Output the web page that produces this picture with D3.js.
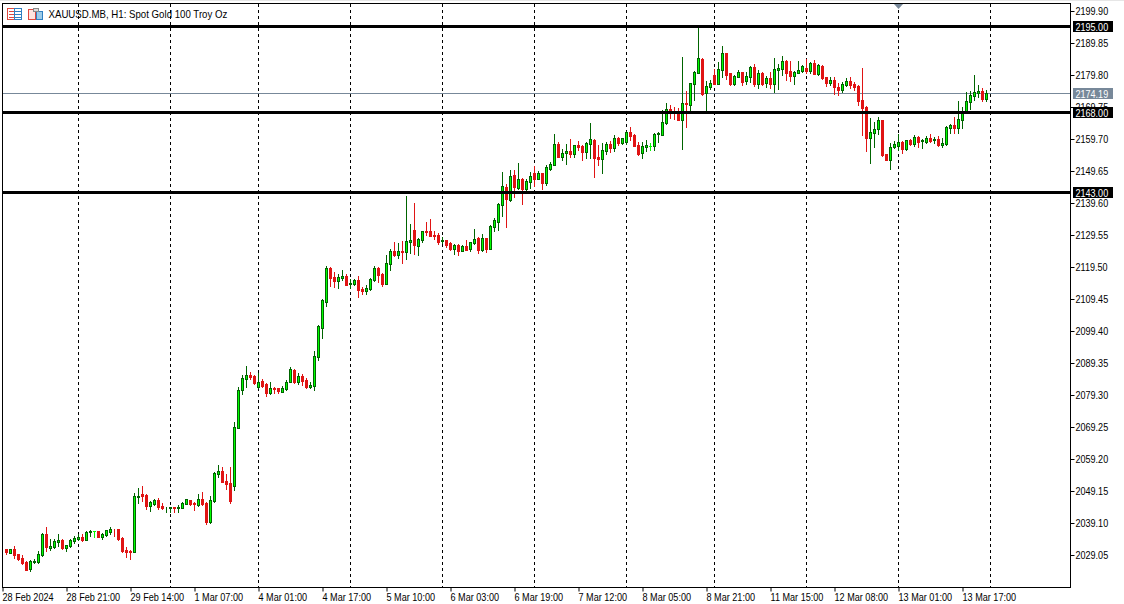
<!DOCTYPE html>
<html><head><meta charset="utf-8">
<style>html,body{margin:0;padding:0;background:#fff}svg{display:block}text{font-family:"Liberation Sans",Arial,sans-serif;fill:#000}</style>
<script src="https://cdn.jsdelivr.net/npm/d3@7/dist/d3.min.js"></script>
</head><body><svg id="c" width="1124" height="604"></svg>
<script>
const opens=[2030.9,2029.7,2030.9,2029.3,2028.0,2026.9,2024.7,2027.0,2026.9,2029.0,
2035.6,2031.2,2031.6,2033.1,2033.8,2031.2,2031.9,2033.4,2034.1,2034.7,
2033.8,2036.3,2036.6,2036.6,2034.7,2035.3,2036.3,2037.2,2037.2,2034.4,
2030.6,2030.3,2030.0,2047.4,2048.2,2047.9,2044.4,2045.1,2046.3,2044.4,
2044.0,2043.8,2044.1,2043.8,2043.8,2045.1,2046.3,2045.4,2044.8,2046.6,
2045.4,2039.4,2046.0,2054.5,2055.4,2052.3,2051.7,2050.7,2068.9,2080.9,
2084.3,2085.6,2085.3,2081.8,2083.7,2082.7,2079.9,2081.5,2081.5,2080.2,
2081.2,2083.4,2087.1,2083.4,2085.3,2084.0,2081.8,2082.2,2091.2,2100.3,
2108.5,2119.2,2116.4,2115.1,2116.0,2116.7,2114.2,2114.2,2115.4,2112.6,
2112.0,2112.6,2115.4,2119.2,2117.3,2114.2,2120.4,2124.5,2123.3,2124.5,
2124.2,2127.4,2131.1,2126.1,2128.0,2130.8,2130.8,2129.5,2129.5,2127.8,
2128.0,2127.0,2125.2,2126.4,2124.5,2126.1,2125.2,2127.0,2128.6,2124.8,
2128.6,2125.2,2132.1,2133.6,2139.0,2144.6,2140.5,2148.4,2144.3,2147.1,
2144.0,2146.2,2149.0,2147.1,2149.0,2145.9,2150.3,2151.5,2158.1,2154.0,
2155.3,2155.9,2155.0,2157.8,2157.5,2155.6,2158.1,2159.4,2154.0,2153.4,
2155.9,2158.1,2156.9,2160.0,2158.4,2158.8,2161.9,2161.0,2157.8,2155.3,
2157.3,2157.5,2157.5,2161.3,2161.0,2164.7,2169.1,2167.9,2167.9,2165.7,
2171.0,2170.4,2177.0,2180.4,2184.8,2174.1,2176.0,2179.8,2177.0,2181.4,
2186.7,2180.4,2177.0,2179.2,2180.7,2177.9,2179.2,2182.3,2177.0,2180.4,
2177.3,2178.9,2177.0,2181.4,2181.7,2184.2,2181.1,2179.5,2180.4,2181.1,
2182.0,2181.1,2183.6,2180.1,2182.6,2179.2,2177.3,2178.2,2176.0,2175.1,
2176.7,2177.9,2177.0,2176.3,2171.9,2169.7,2160.0,2161.6,2162.8,2165.7,
2155.0,2153.1,2157.2,2157.5,2158.8,2156.5,2159.4,2158.1,2160.3,2159.1,
2158.8,2160.0,2159.4,2159.7,2157.8,2158.1,2163.1,2164.1,2163.1,2165.7,
2168.5,2171.3,2173.2,2174.1,2174.8,2172.3];
const highs=[2030.9,2030.9,2031.9,2029.4,2028.9,2027.2,2027.5,2027.8,2030.3,2036.0,
2037.8,2034.1,2034.1,2035.6,2034.1,2032.2,2034.1,2035.0,2035.6,2035.6,
2036.6,2036.9,2036.6,2036.6,2036.0,2036.9,2037.8,2037.2,2037.2,2034.7,
2031.6,2030.6,2048.5,2050.1,2050.7,2048.2,2046.0,2046.6,2047.0,2045.4,
2044.1,2044.1,2044.1,2044.8,2045.7,2046.6,2046.3,2045.7,2048.2,2048.8,
2045.7,2047.6,2055.1,2057.3,2056.7,2054.5,2056.7,2070.8,2081.8,2085.6,
2088.4,2086.5,2085.6,2086.2,2084.3,2083.1,2083.4,2081.8,2081.5,2082.1,
2084.0,2088.1,2087.5,2086.2,2085.9,2084.6,2083.4,2093.1,2101.3,2109.4,
2119.8,2119.5,2117.9,2117.3,2118.6,2117.3,2115.7,2115.7,2116.7,2113.2,
2113.9,2116.0,2119.8,2119.5,2117.6,2123.3,2125.2,2127.4,2127.0,2127.7,
2141.8,2133.0,2139.6,2128.6,2130.8,2133.6,2134.6,2130.8,2130.2,2128.9,
2128.0,2127.4,2126.7,2126.7,2126.4,2128.0,2127.4,2131.4,2128.9,2129.9,
2128.6,2132.7,2134.9,2139.6,2149.3,2145.6,2150.0,2150.0,2152.2,2147.4,
2147.1,2149.3,2151.2,2149.6,2149.0,2151.5,2152.5,2161.3,2158.8,2156.6,
2158.1,2159.7,2157.8,2159.1,2157.8,2158.8,2164.7,2159.7,2157.8,2158.4,
2158.8,2159.1,2161.0,2160.3,2160.0,2162.2,2163.5,2161.3,2158.8,2158.8,
2159.4,2158.4,2161.6,2161.9,2168.8,2171.0,2170.4,2169.8,2169.4,2185.4,
2174.8,2177.3,2181.1,2194.6,2185.1,2177.9,2178.2,2181.7,2183.9,2188.9,
2186.7,2180.4,2179.8,2181.4,2180.7,2180.7,2182.6,2183.2,2181.4,2180.7,
2179.5,2180.7,2185.1,2183.2,2185.8,2184.5,2184.2,2181.1,2184.2,2182.9,
2184.8,2183.9,2184.5,2183.2,2182.9,2179.2,2179.2,2179.2,2177.3,2177.6,
2178.9,2179.2,2177.6,2176.7,2182.0,2170.1,2166.3,2165.0,2166.6,2165.7,
2155.0,2158.4,2159.1,2161.3,2159.1,2159.4,2159.7,2161.0,2160.6,2159.7,
2160.6,2161.3,2160.3,2160.6,2160.0,2163.8,2164.4,2166.6,2171.6,2169.7,
2174.5,2174.8,2179.8,2176.7,2175.7,2175.1];
const lows=[2029.4,2029.7,2028.1,2027.5,2026.2,2024.3,2024.0,2026.5,2026.5,2028.7,
2030.3,2030.6,2031.2,2031.9,2030.9,2030.3,2031.6,2032.8,2033.8,2033.4,
2033.8,2035.0,2034.7,2034.7,2034.1,2035.0,2035.6,2035.0,2033.8,2030.0,
2028.4,2027.8,2030.0,2045.4,2046.0,2043.5,2042.9,2044.8,2043.5,2043.5,
2042.6,2042.6,2042.6,2042.6,2043.8,2045.1,2044.8,2043.2,2044.4,2044.8,
2038.8,2039.1,2045.7,2053.5,2052.0,2049.8,2045.4,2049.5,2068.9,2079.6,
2081.8,2084.3,2082.8,2081.5,2081.8,2079.0,2079.6,2079.9,2079.9,2080.2,
2080.9,2083.4,2083.1,2082.7,2082.4,2081.5,2081.5,2080.9,2090.3,2097.2,
2107.2,2113.5,2113.2,2112.9,2115.4,2113.9,2112.9,2113.9,2110.1,2111.0,
2111.0,2112.3,2115.1,2114.8,2113.5,2114.2,2118.6,2123.0,2122.3,2120.7,
2122.0,2123.9,2123.6,2123.3,2127.4,2129.5,2129.2,2128.3,2126.7,2127.0,
2125.8,2124.8,2123.6,2123.3,2124.5,2124.8,2124.5,2126.7,2123.9,2124.5,
2124.2,2125.2,2130.8,2131.1,2135.5,2132.1,2140.2,2141.5,2144.0,2139.3,
2143.4,2144.3,2144.9,2147.1,2144.0,2145.3,2150.0,2151.5,2154.0,2153.1,
2151.8,2154.0,2154.0,2156.2,2153.1,2153.7,2153.7,2147.8,2151.5,2149.0,
2155.0,2155.6,2155.9,2157.8,2158.1,2158.1,2159.4,2157.5,2154.7,2153.7,
2155.9,2156.2,2156.2,2158.8,2161.0,2164.4,2166.3,2166.0,2165.7,2156.6,
2163.5,2168.5,2171.9,2180.4,2173.5,2168.5,2175.4,2177.0,2177.0,2179.2,
2178.5,2176.7,2176.7,2179.2,2176.7,2177.0,2177.6,2176.3,2175.7,2176.7,
2176.0,2175.7,2174.5,2175.4,2179.8,2178.2,2177.9,2177.0,2180.4,2180.7,
2180.4,2180.4,2180.1,2179.8,2178.5,2176.3,2176.7,2173.8,2173.5,2174.5,
2176.3,2175.7,2175.1,2170.4,2161.0,2155.9,2152.2,2157.2,2161.3,2154.4,
2153.1,2150.3,2156.9,2156.2,2155.3,2156.2,2157.8,2157.5,2157.2,2156.9,
2158.4,2158.8,2158.4,2157.5,2157.2,2157.8,2161.6,2161.6,2161.6,2163.1,
2168.5,2169.1,2171.9,2172.9,2171.6,2171.6];
const closes=[2030.1,2030.9,2029.0,2027.8,2026.5,2024.3,2027.2,2027.2,2029.4,2035.6,
2031.6,2031.9,2033.4,2033.8,2031.2,2032.2,2033.8,2034.4,2034.7,2033.8,
2036.3,2036.6,2036.6,2034.7,2035.6,2036.8,2037.2,2037.1,2034.1,2030.3,
2030.0,2030.0,2047.6,2047.6,2047.6,2044.4,2045.7,2046.3,2044.1,2043.8,
2044.1,2044.1,2043.7,2044.1,2045.4,2046.5,2045.1,2045.0,2046.6,2045.1,
2039.4,2046.3,2054.8,2055.4,2052.0,2051.3,2046.0,2069.3,2080.9,2084.6,
2085.6,2085.0,2083.1,2083.4,2082.1,2079.9,2081.5,2081.3,2080.6,2081.5,
2083.4,2087.5,2083.4,2085.3,2083.7,2081.8,2082.4,2091.5,2101.0,2109.1,
2119.2,2116.0,2115.1,2116.4,2116.7,2113.9,2114.5,2115.4,2112.3,2112.0,
2112.9,2115.7,2119.2,2117.0,2114.2,2120.7,2124.5,2123.3,2124.5,2124.3,
2127.7,2128.0,2126.4,2128.3,2130.8,2130.5,2129.2,2129.2,2127.4,2128.0,
2126.4,2125.2,2126.4,2124.5,2126.1,2124.8,2127.4,2128.3,2124.8,2128.6,
2125.2,2132.4,2134.3,2139.3,2144.9,2140.8,2148.1,2144.6,2147.1,2144.0,
2146.5,2148.1,2147.1,2149.0,2145.9,2150.9,2151.8,2158.1,2154.0,2155.3,
2155.9,2155.0,2157.8,2157.2,2155.6,2158.4,2159.7,2153.7,2153.4,2156.2,
2158.1,2156.9,2160.0,2158.4,2160.0,2161.9,2160.6,2157.5,2155.0,2157.5,
2157.8,2157.5,2161.3,2161.5,2165.0,2169.1,2167.9,2167.8,2165.7,2171.0,
2170.7,2177.3,2180.7,2185.1,2173.8,2176.3,2177.3,2177.0,2181.7,2186.7,
2179.8,2177.0,2179.5,2180.7,2177.6,2179.5,2182.3,2177.0,2180.4,2177.0,
2178.9,2177.0,2181.7,2182.0,2184.2,2180.4,2179.5,2180.7,2181.4,2182.6,
2181.1,2183.6,2180.1,2182.9,2178.9,2177.3,2178.2,2176.0,2175.1,2177.0,
2177.9,2176.7,2176.0,2171.6,2169.4,2160.0,2161.9,2162.8,2165.7,2154.7,
2153.1,2157.2,2158.1,2158.8,2156.5,2159.4,2158.1,2160.3,2158.8,2159.4,
2160.0,2159.1,2159.7,2157.8,2158.4,2163.5,2164.1,2163.1,2166.0,2168.5,
2171.6,2173.5,2174.5,2174.8,2172.3,2174.19];
const priceTicks=[2199.90,2189.85,2179.80,2169.75,2159.70,2149.65,2139.60,2129.55,2119.50,2109.45,2099.40,2089.35,2079.30,2069.25,2059.20,2049.15,2039.10,2029.05];
const levels=[2195.00,2168.00,2143.00];
const lastPrice=2174.19;
const timeLabels=["28 Feb 2024","28 Feb 21:00","29 Feb 14:00","1 Mar 07:00","4 Mar 01:00","4 Mar 17:00","5 Mar 10:00","6 Mar 03:00","6 Mar 19:00","7 Mar 12:00","8 Mar 05:00","8 Mar 21:00","11 Mar 15:00","12 Mar 08:00","13 Mar 01:00","13 Mar 17:00"];
const timeTickBars=[-1,15,31,47,63,79,95,111,127,143,159,175,191,207,223,239];
const daySeparators=[18,41,63,86,109,132,155,177,200,223,246];
const title="XAUUSD.MB, H1:  Spot Gold 100 Troy Oz";

const L=2,R=1070,T=3,B=587;
const svg=d3.select("#c");
const x=d3.scaleLinear().domain([0,245]).range([6.5,986.5]);
const y=d3.scaleLinear().domain([2199.9,2029.05]).range([11,555]);
const py=v=>Math.round(y(v));
const GREEN="#006400",LIME="#00ff00",RED="#e01414";
// squeeze text horizontally to the narrower face of the reference
const fit=(sel,r)=>sel.each(function(){this.setAttribute("textLength",this.getComputedTextLength()*r);this.setAttribute("lengthAdjust","spacingAndGlyphs");});

svg.append("rect").attr("width",1124).attr("height",1).attr("fill","#e6e6e6");

svg.append("g").selectAll("line").data(daySeparators).join("line")
 .attr("x1",d=>x(d)).attr("x2",d=>x(d)).attr("y1",T+1).attr("y2",B)
 .attr("stroke","#000").attr("stroke-dasharray","3 3");

svg.append("line").attr("x1",L).attr("x2",R).attr("y1",py(lastPrice)+.5).attr("y2",py(lastPrice)+.5).attr("stroke","#778899");

const idx=d3.range(closes.length);
const g=svg.append("g").attr("shape-rendering","crispEdges");
const col=i=>closes[i]>opens[i]?GREEN:closes[i]<opens[i]?RED:LIME;
g.selectAll("line").data(idx).join("line")
 .attr("x1",x).attr("x2",x)
 .attr("y1",i=>py(highs[i])).attr("y2",i=>py(lows[i])+1)
 .attr("stroke",col);
g.selectAll("rect").data(idx.filter(i=>closes[i]!==opens[i])).join("rect")
 .attr("x",i=>x(i)-1).attr("width",2)
 .attr("y",i=>py(Math.max(opens[i],closes[i]))+.5)
 .attr("height",i=>Math.max(py(Math.min(opens[i],closes[i]))-py(Math.max(opens[i],closes[i])),0))
 .attr("fill",i=>closes[i]>opens[i]?LIME:RED)
 .attr("stroke",col);
g.selectAll("line.d").data(idx.filter(i=>closes[i]===opens[i])).join("line").attr("class","d")
 .attr("x1",i=>x(i)-1.5).attr("x2",i=>x(i)+1.5)
 .attr("y1",i=>py(closes[i])+.5).attr("y2",i=>py(closes[i])+.5).attr("stroke",col);

svg.append("rect").attr("x",L+.5).attr("y",T+.5).attr("width",R-L).attr("height",B-T).attr("fill","none").attr("stroke","#000");

const ya=svg.append("g").attr("transform",`translate(${R+.5},0)`)
 .call(d3.axisRight(y).tickValues(priceTicks).tickFormat(d3.format(".2f")).tickSize(4).tickPadding(1));
ya.select(".domain").remove();
ya.selectAll("text").attr("font-size",10.4).style("font-family",'"Liberation Sans"').call(fit,.87);
ya.selectAll("line").attr("stroke","#000");

const xa=svg.append("g").attr("transform",`translate(0,${B+.5})`)
 .call(d3.axisBottom(x).tickValues(timeTickBars).tickFormat((d,i)=>timeLabels[i]).tickSize(4).tickPadding(2));
xa.select(".domain").remove();
xa.selectAll("text").attr("text-anchor","start").attr("dx",-.5).attr("font-size",10.4).style("font-family",'"Liberation Sans"').call(fit,.875);
xa.selectAll("line").attr("stroke","#000");

svg.append("g").selectAll("line").data(levels).join("line")
 .attr("x1",L+1).attr("x2",R).attr("y1",d=>Math.floor(y(d))+.5).attr("y2",d=>Math.floor(y(d))+.5)
 .attr("stroke","#000").attr("stroke-width",3);

const tags=levels.map(v=>({v,bg:"#000",dy:-5})).concat([{v:lastPrice,bg:"#778899",dy:-4}]);
const tg=svg.append("g").selectAll("g").data(tags).join("g").attr("transform",d=>`translate(1073,${Math.floor(y(d.v))+d.dy})`);
tg.append("rect").attr("width",40).attr("height",11).attr("fill",d=>d.bg);
tg.append("text").attr("x",2.5).attr("y",9.5).attr("font-size",10.4).style("fill","#fff").text(d=>d.v.toFixed(2)).call(fit,.87);

svg.append("path").attr("d",d3.line()([[x(223)-4.5,4],[x(223)+4.5,4],[x(223),9]])).attr("fill","#778899");

svg.append("text").attr("x",48.5).attr("y",18).attr("font-size",10.8).text(title).call(fit,.895);
const ic=svg.append("g").attr("shape-rendering","crispEdges");
ic.append("rect").attr("x",7.5).attr("y",8.5).attr("width",7).attr("height",11).attr("fill","#fff").attr("stroke","#e0483e");
ic.append("rect").attr("x",14.5).attr("y",8.5).attr("width",7).attr("height",11).attr("fill","#fff").attr("stroke","#2f7fc1");
[11,14,17].forEach(v=>{ic.append("line").attr("x1",9).attr("x2",14).attr("y1",v+.5).attr("y2",v+.5).attr("stroke","#e0483e");ic.append("line").attr("x1",15).attr("x2",21).attr("y1",v+.5).attr("y2",v+.5).attr("stroke","#2f7fc1");});
ic.append("path").attr("d","M28.5 9.5h5l2 3v7h-7z").attr("fill","#fde3df").attr("stroke","#e0483e");
ic.append("path").attr("d","M36.5 11.5h6v8h-6z").attr("fill","#9ccbe8").attr("stroke","#2f7fc1");
ic.append("rect").attr("x",33.5).attr("y",8.5).attr("width",5).attr("height",3).attr("fill","#ddd").attr("stroke","#888");
</script></body></html>
